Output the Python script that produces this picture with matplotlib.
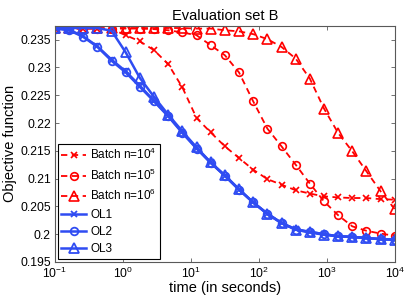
import matplotlib
matplotlib.use("Agg")
import matplotlib.pyplot as plt
from matplotlib.ticker import FixedLocator, FuncFormatter, NullLocator

plt.rcParams['font.family'] = ['Liberation Sans', 'DejaVu Sans']
plt.rcParams['mathtext.fontset'] = 'custom'
plt.rcParams['mathtext.rm'] = 'Liberation Sans'
plt.rcParams['mathtext.it'] = 'Liberation Sans:italic'
plt.rcParams['mathtext.bf'] = 'Liberation Sans:bold'

# time points (seconds)
time = [0.1, 0.1616, 0.2610, 0.4217, 0.6813, 1.101, 1.778, 2.873, 4.642, 7.499,
        12.12, 19.58, 31.62, 51.09, 82.54, 133.4, 215.4, 348.1, 562.3, 908.5,
        1468, 2371, 3831, 6190, 10000]

batch_1e4 = [0.2370, 0.2370, 0.2370, 0.2370, 0.2369, 0.2358, 0.2347, 0.2331, 0.2306, 0.2264,
             0.2209, 0.2183, 0.2158, 0.2137, 0.2116, 0.2099, 0.2089, 0.2079, 0.2073, 0.2068,
             0.2066, 0.2065, 0.2065, 0.2063, 0.2062]
batch_1e5 = [0.2370, 0.2370, 0.2370, 0.2370, 0.2370, 0.2370, 0.2370, 0.2369, 0.2367, 0.2363,
             0.2358, 0.2340, 0.2322, 0.2291, 0.2239, 0.2190, 0.2158, 0.2125, 0.2091, 0.2059,
             0.2034, 0.2014, 0.2006, 0.2001, 0.1997]
batch_1e6 = [0.2371, 0.2371, 0.2371, 0.2371, 0.2371, 0.2371, 0.2371, 0.2371, 0.2371, 0.2371,
             0.2370, 0.2370, 0.2367, 0.2365, 0.2360, 0.2351, 0.2337, 0.2316, 0.2280, 0.2226,
             0.2182, 0.2149, 0.2113, 0.2077, 0.2045]
ol1 = [0.2371, 0.2368, 0.2356, 0.2338, 0.2314, 0.2293, 0.2267, 0.2240, 0.2213, 0.2183,
       0.2155, 0.2129, 0.2105, 0.2080, 0.2057, 0.2037, 0.2020, 0.2009, 0.2004, 0.2000,
       0.1996, 0.1995, 0.1993, 0.1991, 0.1990]
ol2 = [0.2370, 0.2367, 0.2355, 0.2337, 0.2312, 0.2291, 0.2265, 0.2239, 0.2212, 0.2182,
       0.2154, 0.2128, 0.2105, 0.2080, 0.2057, 0.2037, 0.2020, 0.2008, 0.2004, 0.2000,
       0.1996, 0.1995, 0.1993, 0.1991, 0.1990]
ol3 = [0.2371, 0.2371, 0.2371, 0.2371, 0.2366, 0.2327, 0.2281, 0.2247, 0.2215, 0.2185,
       0.2156, 0.2129, 0.2106, 0.2081, 0.2057, 0.2036, 0.2020, 0.2008, 0.2003, 0.1999,
       0.1996, 0.1995, 0.1993, 0.1991, 0.1990]

yticks = [0.195, 0.2, 0.205, 0.21, 0.215, 0.22, 0.225, 0.23, 0.235]
xticks = [0.1, 1, 10, 100, 1000, 10000]

RED = '#ff0000'
BLUE = '#2f4cf2'

fig = plt.figure(figsize=(4.07, 3.0), dpi=100)
ax = fig.add_axes([0.135, 0.127, 0.835, 0.787])

red_kw = dict(color=RED, linestyle='--', linewidth=1.3, markerfacecolor='none',
              markeredgecolor=RED, markeredgewidth=1.2, dashes=(3.5, 2.5))
ax.plot(time, batch_1e4, marker='x', markersize=4.5, label='Batch n=$10^4$', **red_kw)
ax.plot(time, batch_1e5, marker='o', markersize=5.5, label='Batch n=$10^5$', **red_kw)
ax.plot(time, batch_1e6, marker='^', markersize=6.5, label='Batch n=$10^6$', **red_kw)

blue_kw = dict(color=BLUE, linestyle='-', linewidth=1.8, markerfacecolor='none',
               markeredgecolor=BLUE, markeredgewidth=1.3)
ax.plot(time, ol1, marker='x', markersize=4.5, label='OL1', **blue_kw)
ax.plot(time, ol2, marker='o', markersize=5.5, label='OL2', **blue_kw)
ax.plot(time, ol3, marker='^', markersize=6.5, label='OL3', **blue_kw)

ax.set_xscale('log')
ax.set_xlim(0.1, 10000)
ax.set_ylim(0.195, 0.2375)
ax.xaxis.set_major_locator(FixedLocator(xticks))
ax.xaxis.set_minor_locator(NullLocator())
ax.yaxis.set_major_locator(FixedLocator(yticks))
ax.yaxis.set_major_formatter(FuncFormatter(lambda v, p: ('%g' % round(v, 4))))

ax.tick_params(direction='in', top=True, right=True, length=3, width=0.6,
               labelsize=8.7, colors='0.35', labelcolor='black', pad=3)
for s in ax.spines.values():
    s.set_color('0.35')
    s.set_linewidth(0.8)

ax.set_title('Evaluation set B', fontsize=10.5, pad=4)
ax.set_xlabel('time (in seconds)', fontsize=10.5, labelpad=0)
ax.set_ylabel('Objective function', fontsize=10.5, labelpad=2)

leg = ax.legend(loc='lower left', fontsize=8.5, frameon=True, fancybox=False,
                edgecolor='black', framealpha=1, borderaxespad=0.25,
                handlelength=2.1, labelspacing=0.45, handletextpad=0.35,
                borderpad=0.3)
leg.get_frame().set_linewidth(0.8)

fig.savefig('out.png', dpi=100)
